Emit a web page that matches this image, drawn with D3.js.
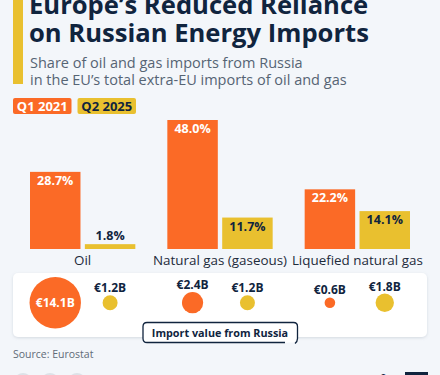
<!DOCTYPE html>
<html>
<head>
<meta charset="utf-8">
<script src="https://cdn.jsdelivr.net/npm/d3@7"></script>
<style>
  html, body { margin: 0; padding: 0; background: #f3f6fa; }
  svg { display: block; font-family: "Open Sans", sans-serif; }
</style>
</head>
<body>
<div id="chart"></div>
<script>
const categories = ['Oil', 'Natural gas (gaseous)', 'Liquefied natural gas'];
const periods = ['Q1 2021', 'Q2 2025'];
const share2021 = [28.7, 48.0, 22.2];
const share2025 = [1.8, 11.7, 14.1];
const value2021 = [14.1, 2.4, 0.6];
const value2025 = [1.2, 1.2, 1.8];

const width = 440, height = 375;
const orange = '#fb6a26', yellow = '#e9c02f', navy = '#10243e';

const svg = d3.select('#chart').append('svg')
  .attr('width', width)
  .attr('height', height);

svg.append('rect').attr('width', width).attr('height', height).attr('fill', '#f3f6fa');

// header
svg.append('rect').attr('x', 13).attr('y', -2).attr('width', 10).attr('height', 86).attr('fill', yellow);

const title = svg.append('text')
  .attr('fill', navy)
  .attr('font-weight', 700)
  .attr('font-size', 25.6);
title.append('tspan').attr('x', 29).attr('y', 14).text('Europe\u2019s Reduced Reliance');
title.append('tspan').attr('x', 29).attr('y', 42).text('on Russian Energy Imports');

const sub = svg.append('text')
  .attr('fill', '#566474')
  .attr('font-size', 14.5);
sub.append('tspan').attr('x', 30).attr('y', 68).text('Share of oil and gas imports from Russia');
sub.append('tspan').attr('x', 30).attr('y', 85).text('in the EU\u2019s total extra-EU imports of oil and gas');

// legend
const legend = svg.append('g');
periods.forEach((p, i) => {
  const g = legend.append('g').attr('transform', `translate(${13 + i * 64.5},98)`);
  g.append('rect').attr('width', 58.5).attr('height', 16).attr('rx', 2)
    .attr('fill', i === 0 ? orange : yellow);
  g.append('text').attr('x', 29.25).attr('y', 12.5)
    .attr('text-anchor', 'middle')
    .attr('font-size', 13).attr('font-weight', 700)
    .attr('fill', i === 0 ? '#fff' : navy)
    .text(p);
});

// bars
const x0 = d3.scaleBand().domain(categories).range([14, 426]);
const x1 = d3.scaleBand().domain(periods)
  .range([16, x0.bandwidth() - 16])
  .paddingInner(0.08);
const y = d3.scaleLinear().domain([0, 48]).range([249, 120]);

const rows = categories.map((c, i) => ({
  cat: c,
  vals: [
    { p: periods[0], share: share2021[i], value: value2021[i] },
    { p: periods[1], share: share2025[i], value: value2025[i] }
  ]
}));

const groups = svg.selectAll('.grp')
  .data(rows)
  .enter().append('g')
  .attr('class', 'grp')
  .attr('transform', d => 'translate(' + x0(d.cat) + ',0)');

groups.selectAll('rect')
  .data(d => d.vals)
  .enter().append('rect')
  .attr('x', d => x1(d.p))
  .attr('y', d => y(d.share))
  .attr('width', x1.bandwidth())
  .attr('height', d => y(0) - y(d.share))
  .attr('fill', d => d.p === periods[0] ? orange : yellow);

groups.selectAll('.lbl')
  .data(d => d.vals)
  .enter().append('text')
  .attr('class', 'lbl')
  .attr('x', d => x1(d.p) + x1.bandwidth() / 2)
  .attr('y', d => (y(0) - y(d.share)) < 20 ? y(d.share) - 4 : y(d.share) + 13)
  .attr('text-anchor', 'middle')
  .attr('font-size', 12.5)
  .attr('font-weight', 700)
  .attr('fill', d => d.p === periods[0] ? '#fff' : navy)
  .text(d => d3.format('.1f')(d.share) + '%');

groups.append('text')
  .attr('x', x0.bandwidth() / 2)
  .attr('y', 265)
  .attr('text-anchor', 'middle')
  .attr('font-size', 13.4)
  .attr('fill', '#1d2b3b')
  .text(d => d.cat);

// value panel
const defs = svg.append('defs');
const f = defs.append('filter').attr('id', 'sh').attr('x', '-5%').attr('y', '-20%').attr('width', '110%').attr('height', '150%');
f.append('feDropShadow').attr('dx', 0).attr('dy', 1).attr('stdDeviation', 1.5).attr('flood-color', '#8a96a6').attr('flood-opacity', 0.3);

svg.append('rect')
  .attr('x', 13).attr('y', 273)
  .attr('width', 414).attr('height', 64)
  .attr('rx', 5)
  .attr('fill', '#fff')
  .attr('filter', 'url(#sh)');

const r = d3.scaleSqrt().domain([0, 14.1]).range([0, 25.7]);
const cy = 302.7;

const bubbles = svg.selectAll('.bub')
  .data(rows)
  .enter().append('g')
  .attr('class', 'bub')
  .attr('transform', d => 'translate(' + x0(d.cat) + ',0)');

bubbles.selectAll('circle')
  .data(d => d.vals)
  .enter().append('circle')
  .attr('cx', d => x1(d.p) + x1.bandwidth() / 2)
  .attr('cy', cy)
  .attr('r', d => r(d.value))
  .attr('fill', d => d.p === periods[0] ? orange : yellow);

bubbles.selectAll('text')
  .data(d => d.vals)
  .enter().append('text')
  .attr('x', d => x1(d.p) + x1.bandwidth() / 2)
  .attr('y', d => r(d.value) > 18 ? cy + 4.5 : cy - r(d.value) - 3)
  .attr('text-anchor', 'middle')
  .attr('font-size', 12)
  .attr('font-weight', 700)
  .attr('fill', d => r(d.value) > 18 ? '#fff' : navy)
  .text(d => '\u20ac' + d3.format('.1f')(d.value) + 'B');

// tag
const tag = svg.append('g').attr('transform', 'translate(143,322.5)');
tag.append('rect').attr('width', 154.5).attr('height', 20).attr('rx', 4).attr('fill', '#fff');
tag.append('path')
  .attr('d', 'M142,20 H4 Q0,20 0,16 V4 Q0,0 4,0 H150.5 Q154.5,0 154.5,4 V16 Q154.5,19 152,21')
  .attr('fill', 'none')
  .attr('stroke', navy)
  .attr('stroke-width', 1.3);
tag.append('text')
  .attr('x', 77).attr('y', 14)
  .attr('text-anchor', 'middle')
  .attr('font-size', 10.8)
  .attr('font-weight', 700)
  .attr('fill', navy)
  .text('Import value from Russia');

// footer
svg.append('text')
  .attr('x', 13).attr('y', 358)
  .attr('font-size', 10.5)
  .attr('fill', '#5f6b78')
  .text('Source: Eurostat');

[23, 50, 77].forEach(cx => {
  svg.append('circle').attr('cx', cx).attr('cy', 382).attr('r', 9).attr('fill', '#dde2e8');
});

// logo, mostly below the edge
svg.append('text')
  .attr('x', 326).attr('y', 394)
  .attr('font-size', 27)
  .attr('font-weight', 700)
  .attr('fill', navy)
  .text('statista');
svg.append('rect').attr('x', 405).attr('y', 372).attr('width', 23).attr('height', 10).attr('fill', navy);
</script>
</body>
</html>
